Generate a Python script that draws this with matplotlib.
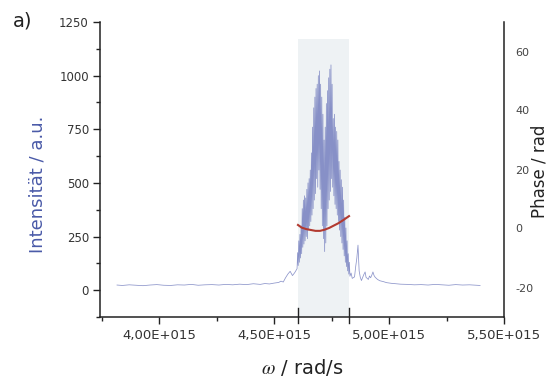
import matplotlib
matplotlib.use("Agg")
import matplotlib.pyplot as plt
from matplotlib.ticker import MultipleLocator, FixedLocator, FixedFormatter
import matplotlib.transforms as mtransforms

plt.rcParams['font.family'] = ['DejaVu Sans']
plt.rcParams['mathtext.fontset'] = 'stix'
plt.rcParams['axes.unicode_minus'] = False

# --- spectrum: frequency in 1E15 rad/s, intensity in a.u. ---
omega_base_left = [3.817, 3.84, 3.87, 3.90, 3.93, 3.96, 3.99, 4.02, 4.05, 4.08, 4.11,
                   4.14, 4.17, 4.20, 4.23, 4.26, 4.29, 4.32, 4.35, 4.38, 4.41, 4.44,
                   4.46, 4.48, 4.50, 4.52, 4.53, 4.54, 4.55, 4.56, 4.57, 4.58, 4.59]
inten_base_left = [24, 22, 25, 23, 21, 24, 26, 23, 22, 25, 24,
                   27, 23, 25, 26, 24, 27, 25, 28, 26, 30, 27,
                   31, 29, 33, 36, 42, 38, 58, 75, 88, 68, 82]

omega_peak = [4.6000, 4.6025, 4.6050, 4.6075, 4.6100, 4.6125, 4.6150, 4.6175, 4.6200,
              4.6225, 4.6250, 4.6275, 4.6300, 4.6325, 4.6350, 4.6375, 4.6400, 4.6425,
              4.6450, 4.6475, 4.6500, 4.6525, 4.6550, 4.6575, 4.6600, 4.6625, 4.6650,
              4.6675, 4.6700, 4.6725, 4.6750, 4.6775, 4.6800, 4.6825, 4.6850, 4.6875,
              4.6900, 4.6925, 4.6950, 4.6975, 4.7000, 4.7025, 4.7050, 4.7075, 4.7100,
              4.7125, 4.7150, 4.7175, 4.7200, 4.7225, 4.7250, 4.7275, 4.7300, 4.7325,
              4.7350, 4.7375, 4.7400, 4.7425, 4.7450, 4.7475, 4.7500, 4.7525, 4.7550,
              4.7575, 4.7600, 4.7625, 4.7650, 4.7675, 4.7700, 4.7725, 4.7750, 4.7775,
              4.7800, 4.7825, 4.7850, 4.7875, 4.7900, 4.7925, 4.7950, 4.7975, 4.8000,
              4.8025, 4.8050, 4.8075, 4.8100, 4.8125, 4.8150, 4.8175, 4.8200, 4.8225,
              4.8250, 4.8275, 4.8300]
inten_peak = [100, 175, 115, 230, 130, 260, 150, 300, 170, 380,
              200, 420, 215, 440, 230, 430, 250, 470, 240, 500,
              280, 520, 300, 560, 320, 640, 350, 760, 380, 850,
              420, 900, 450, 940, 520, 960, 480, 1000, 560, 1022,
              470, 960, 380, 900, 300, 820, 240, 700, 180, 760,
              220, 870, 300, 930, 380, 990, 420, 1030, 460, 1050,
              520, 960, 480, 800, 440, 820, 400, 760, 380, 740,
              350, 700, 320, 600, 280, 560, 250, 515, 220, 480,
              190, 420, 160, 340, 130, 290, 110, 230, 90, 170,
              75, 130, 65]

omega_base_right = [4.835, 4.84, 4.85, 4.855, 4.86, 4.865, 4.87, 4.875, 4.88, 4.885,
                    4.89, 4.896, 4.90, 4.91, 4.915, 4.92, 4.925, 4.93, 4.935, 4.94,
                    4.95, 4.96, 4.975, 4.99, 5.01, 5.03, 5.05, 5.08, 5.11, 5.14,
                    5.17, 5.20, 5.23, 5.26, 5.29, 5.32, 5.35, 5.38, 5.396]
inten_base_right = [80, 55, 62, 110, 150, 210, 90, 60, 45, 58,
                    72, 85, 60, 50, 66, 58, 70, 85, 68, 60,
                    50, 44, 40, 35, 32, 30, 28, 27, 25, 26,
                    24, 27, 25, 23, 26, 24, 25, 23, 22]

omega_spec = omega_base_left + omega_peak + omega_base_right
inten_spec = inten_base_left + inten_peak + inten_base_right

# --- spectral phase in rad across the selected window ---
omega_phase = [4.604, 4.62, 4.64, 4.66, 4.68, 4.70, 4.72, 4.74, 4.76, 4.78, 4.80, 4.826]
phase = [1.2, 0.3, -0.2, -0.5, -0.8, -0.8, -0.4, 0.2, 1.0, 1.8, 2.8, 4.2]

# selected window and its height
window = (4.604, 4.826)
window_top = 1170

x_ticks = [4.0, 4.5, 5.0, 5.5]
x_ticklabels = ["4,00E+015", "4,50E+015", "5,00E+015", "5,50E+015"]
y_ticks = [0, 250, 500, 750, 1000, 1250]
phase_ticks = [-20, 0, 20, 40, 60]

fig = plt.figure(figsize=(5.47, 3.80), dpi=100)
ax = fig.add_axes([100 / 547, 63 / 380, 404 / 547, 295 / 380])
ax.set_xlim(3.743, 5.5)
ax.set_ylim(-125, 1250)

ax.fill_between(window, [-125, -125], [window_top, window_top],
                color='#eef2f4', lw=0, zorder=0)

ax.plot(omega_spec, inten_spec, color='#6570b8', lw=0.55, alpha=0.75, zorder=2)

# marks at the window edges on the frequency axis
trans = mtransforms.blended_transform_factory(ax.transData, ax.transAxes)
for w in window:
    ax.plot([w, w], [-0.02, 0.03], color='#222222', lw=1.0, transform=trans,
            clip_on=False, zorder=5)

ax.spines['top'].set_visible(False)
ax.spines['right'].set_visible(False)
for s in ('left', 'bottom'):
    ax.spines[s].set_linewidth(1.1)
    ax.spines[s].set_color('#222222')

ax.xaxis.set_major_locator(FixedLocator(x_ticks))
ax.xaxis.set_major_formatter(FixedFormatter(x_ticklabels))
ax.xaxis.set_minor_locator(MultipleLocator(0.25))
ax.yaxis.set_major_locator(FixedLocator(y_ticks))
ax.yaxis.set_minor_locator(MultipleLocator(125))
ax.tick_params(which='major', direction='out', length=5, width=1.0,
               color='#222222', labelcolor='#333333')
ax.tick_params(which='minor', direction='out', length=3, width=1.0, color='#222222')
ax.tick_params(axis='y', labelsize=8.5, pad=3)
ax.tick_params(axis='x', labelsize=9.5, pad=4)

ax.set_ylabel("Intensität / a.u.", color='#4a5aa8', fontsize=13, va='center')
ax.yaxis.set_label_coords(-63 / 404, 0.45)
ax.set_xlabel(r"$\omega$ / rad/s", color='#222222', fontsize=14, va='center')
ax.xaxis.set_label_coords(0.5, -51 / 295)

ax2 = ax.twinx()
ax2.set_ylim(-30, 70)
ax2.plot(omega_phase, phase, color='#b23a30', lw=1.5, zorder=3)
ax2.yaxis.set_major_locator(FixedLocator(phase_ticks))
ax2.tick_params(axis='y', length=0, labelsize=8, labelcolor='#444444', pad=8)
for s in ('top', 'left', 'bottom'):
    ax2.spines[s].set_visible(False)
ax2.spines['right'].set_linewidth(1.1)
ax2.spines['right'].set_color('#222222')
ax2.set_ylabel("Phase / rad", color='#222222', fontsize=12, va='center')
ax2.yaxis.set_label_coords(1 + 35 / 404, 0.495)

fig.text(13 / 547, 1 - 21 / 380, "a)", fontsize=14, color='#222222', va='center')

fig.savefig("out.png", dpi=100)
